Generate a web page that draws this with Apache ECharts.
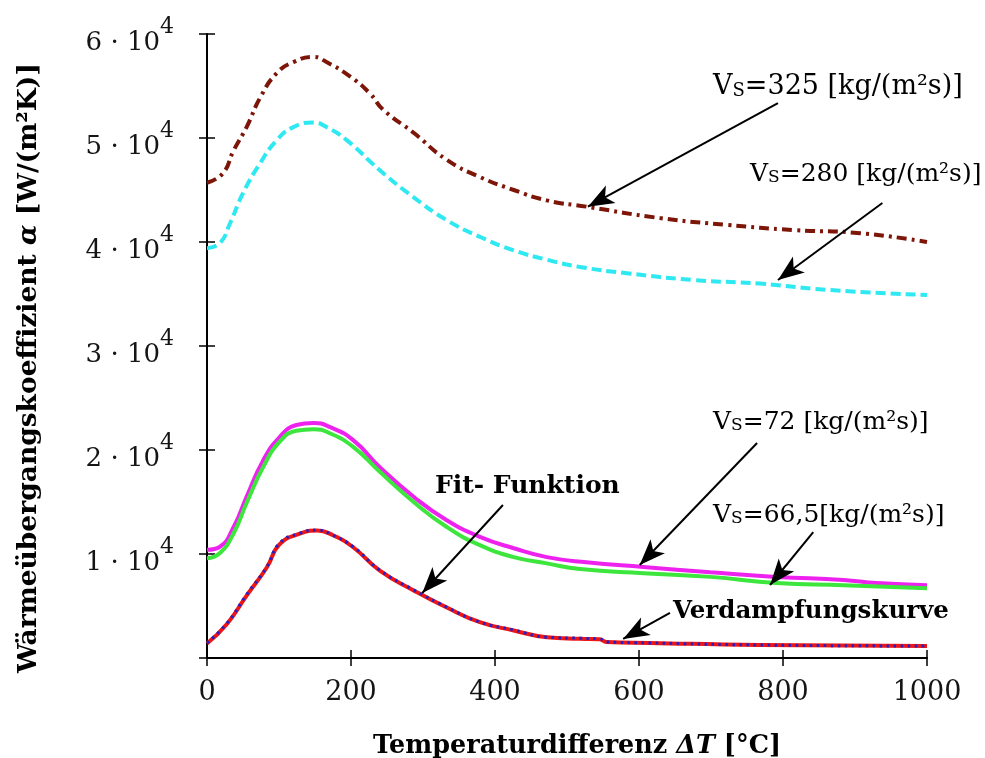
<!DOCTYPE html>
<html><head><meta charset="utf-8">
<script src="https://cdn.jsdelivr.net/npm/echarts@6/dist/echarts.min.js"></script>
<style>html,body{margin:0;padding:0;background:#fff}#c{width:985px;height:758px}</style>
</head><body><div id="c"></div><script>
// ---- data ----
const xTickValues = [0, 200, 400, 600, 800, 1000];
const yTickValues = [0, 10000, 20000, 30000, 40000, 50000, 60000];

const vs325X = [0, 22, 37, 55, 74, 97, 120, 148, 166, 199, 226, 245, 287, 333, 379, 426, 472, 527, 629, 722, 814, 907, 1000];
const vs325Y = [45700, 46600, 48800, 51050, 53900, 56250, 57300, 57800, 57300, 55900, 54300, 52700, 50500, 47900, 46250, 45000, 44000, 43400, 42300, 41650, 41150, 40850, 40000];

const vs280X = [0, 18, 32, 50, 74, 97, 120, 148, 166, 194, 240, 287, 333, 379, 426, 472, 518, 583, 675, 768, 861, 1000];
const vs280Y = [39400, 39900, 41800, 44700, 47600, 49800, 51050, 51500, 51050, 49800, 46900, 44300, 42100, 40500, 39200, 38300, 37600, 37000, 36350, 36000, 35400, 34900];

const vs72X = [0, 18, 37, 55, 78, 101, 124, 148, 171, 203, 240, 287, 333, 379, 426, 472, 527, 606, 699, 791, 884, 930, 1000];
const vs72Y = [10400, 10700, 12600, 15500, 19000, 21250, 22400, 22600, 22200, 20950, 18350, 15500, 13250, 11650, 10550, 9700, 9200, 8750, 8250, 7800, 7500, 7200, 7000];

const vs665X = [0, 18, 37, 55, 78, 101, 124, 148, 171, 203, 240, 287, 333, 379, 426, 472, 518, 606, 699, 791, 884, 1000];
const vs665Y = [9600, 10100, 12000, 14900, 18350, 20800, 21850, 22000, 21600, 20300, 17900, 15000, 12600, 10850, 9700, 9100, 8550, 8150, 7800, 7200, 7000, 6700];

const evapX = [0, 28, 55, 83, 101, 129, 153, 175, 203, 240, 287, 333, 379, 426, 472, 518, 545, 555, 615, 768, 1000];
const evapY = [1450, 3370, 6100, 8750, 11050, 12000, 12300, 11800, 10700, 8450, 6550, 4900, 3450, 2700, 2000, 1900, 1850, 1550, 1450, 1250, 1150];

const fitX = [0, 28, 55, 83, 101, 129, 153, 175, 203, 240, 287, 333, 379, 426, 472, 518, 545, 555, 615, 768, 1000];
const fitY = [1400, 3300, 6000, 8700, 10950, 11950, 12250, 11800, 10650, 8400, 6500, 4850, 3450, 2650, 2000, 1850, 1800, 1550, 1450, 1250, 1150];

// annotation arrows: [fromX, fromY, toX, toY] in data units
const arrow325 = [793, 53360, 529, 43400];
const arrow280 = [938, 43750, 793, 36350];
const arrow72 = [764, 20670, 601, 8940];
const arrow665 = [842, 12100, 782, 7020];
const arrowEvap = [643, 4330, 578, 1830];
const arrowFit = [411, 14710, 299, 6250];

const pairs = (xs, ys) => xs.map((x, i) => [x, ys[i]]);
const seg = a => [{ coord: [a[0], a[1]] }, { coord: [a[2], a[3]] }];

const REG = 'DejaVu Serif';

const chart = echarts.init(document.getElementById('c'));

function vsText(x, y, rest, fs) {
  const rich = {
    t: { fontFamily: REG, fontSize: fs, color: '#151515', lineHeight: fs + 4, verticalAlign: 'bottom' },
    s: { fontFamily: REG, fontSize: Math.round(fs * 0.68), color: '#151515', lineHeight: Math.round(fs * 0.68), verticalAlign: 'bottom' }
  };
  return {
    type: 'text', x: x, y: y,
    style: { text: '{t|V}{s|S}{t|' + rest + '}', rich: rich, verticalAlign: 'middle', align: 'left' }
  };
}
function boldText(x, y, txt, fs) {
  return {
    type: 'text', x: x, y: y,
    style: { text: txt, fontFamily: REG, fontWeight: 'bold', fontSize: fs, fill: '#000', verticalAlign: 'middle', align: 'left' }
  };
}

const tickStyle = { color: '#000', width: 1.5 };
const titleRich = {
  t: { fontFamily: REG, fontWeight: 'bold', fontSize: 25.5, color: '#000' },
  i: { fontFamily: REG, fontWeight: 'bold', fontStyle: 'italic', fontSize: 25.5, color: '#000' }
};

chart.setOption({
  animation: false,
  backgroundColor: '#fff',
  grid: { left: 207, right: 58, top: 34, bottom: 100, containLabel: false, outerBoundsMode: 'none' },
  xAxis: [{
    type: 'value', min: xTickValues[0], max: xTickValues[xTickValues.length - 1], interval: 200,
    position: 'bottom',
    axisLine: { show: true, onZero: false, lineStyle: { color: '#000', width: 2 } },
    axisTick: { show: true, length: 8, lineStyle: tickStyle },
    splitLine: { show: false },
    axisLabel: { fontFamily: REG, fontSize: 27, color: '#151515', margin: 21, formatter: v => String(v) },
    name: '{t|Temperaturdifferenz }{i|ΔT}{t| [°C]}',
    nameLocation: 'middle', nameGap: 75,
    nameTextStyle: { padding: [0, 0, 0, 20], rich: titleRich }
  }, {
    type: 'value', min: 0, max: 1000, interval: 200, position: 'bottom',
    axisLine: { show: false }, axisLabel: { show: false }, splitLine: { show: false },
    axisTick: { show: true, inside: true, length: 8, lineStyle: tickStyle }
  }],
  yAxis: [{
    type: 'value', min: yTickValues[0], max: yTickValues[yTickValues.length - 1], interval: 10000,
    position: 'left',
    axisLine: { show: true, onZero: false, lineStyle: { color: '#000', width: 2 } },
    axisTick: { show: true, length: 8, lineStyle: tickStyle },
    splitLine: { show: false },
    axisLabel: {
      margin: 33,
      formatter: v => v === 0 ? '' : '{b|' + (v / 10000) + ' · 10}{p|4}',
      padding: [5, 0, 0, 0],
      rich: {
        b: { fontFamily: REG, fontSize: 26, color: '#151515', lineHeight: 40, verticalAlign: 'bottom' },
        p: { fontFamily: REG, fontSize: 22, color: '#151515', lineHeight: 22, verticalAlign: 'top' }
      }
    },
    name: '{t|Wärmeübergangskoeffizient }{i|α}{t| [W/(m²K)]}',
    nameLocation: 'middle', nameRotate: 90, nameGap: 164,
    nameTextStyle: {
      padding: [0, 44, 0, 0],
      rich: {
        t: { fontFamily: REG, fontWeight: 'bold', fontSize: 26.5, color: '#000' },
        i: { fontFamily: REG, fontWeight: 'bold', fontStyle: 'italic', fontSize: 26.5, color: '#000' }
      }
    }
  }, {
    type: 'value', min: 0, max: 60000, interval: 10000, position: 'left',
    axisLine: { show: false }, axisLabel: { show: false }, splitLine: { show: false },
    axisTick: { show: true, inside: true, length: 8, lineStyle: tickStyle }
  }],
  series: [
    {
      name: 'VS=325', type: 'line', data: pairs(vs325X, vs325Y), showSymbol: false, symbol: 'none',
      smooth: 0.5,
      lineStyle: { color: '#7d1608', width: 4, type: [10, 5, 3, 5] },
      markLine: {
        silent: true, symbol: ['none', 'arrow'], symbolSize: [15, 26],
        label: { show: false },
        lineStyle: { color: '#000', width: 2, type: 'solid' },
        data: [seg(arrow325), seg(arrow280), seg(arrow72), seg(arrow665), seg(arrowEvap), seg(arrowFit)]
      },
      z: 3
    },
    {
      name: 'VS=280', type: 'line', data: pairs(vs280X, vs280Y), showSymbol: false, symbol: 'none',
      smooth: 0.5,
      lineStyle: { color: '#2ee8f2', width: 4, type: [10, 5] }
    },
    {
      name: 'VS=72', type: 'line', data: pairs(vs72X, vs72Y), showSymbol: false, symbol: 'none',
      smooth: 0.5,
      lineStyle: { color: '#ee22ee', width: 4 }
    },
    {
      name: 'VS=66,5', type: 'line', data: pairs(vs665X, vs665Y), showSymbol: false, symbol: 'none',
      smooth: 0.5,
      lineStyle: { color: '#3ce63c', width: 4 }
    },
    {
      name: 'Fit- Funktion', type: 'line', data: pairs(fitX, fitY), showSymbol: false, symbol: 'none',
      smooth: 0.5,
      lineStyle: { color: '#ee1515', width: 4 }
    },
    {
      name: 'Verdampfungskurve', type: 'line', data: pairs(evapX, evapY), showSymbol: false, symbol: 'none',
      smooth: 0.5,
      lineStyle: { color: '#2020cc', width: 3, type: [2.5, 4.5] }
    }
  ],
  graphic: [
    vsText(713, 85, '=325 [kg/(m²s)]', 27),
    vsText(750, 172, '=280 [kg/(m²s)]', 25),
    vsText(713, 420, '=72 [kg/(m²s)]', 25),
    vsText(713, 513, '=66,5[kg/(m²s)]', 25),
    boldText(435, 486, 'Fit- Funktion', 25),
    boldText(673, 612, 'Verdampfungskurve', 24.5)
  ]
});
</script></body></html>
